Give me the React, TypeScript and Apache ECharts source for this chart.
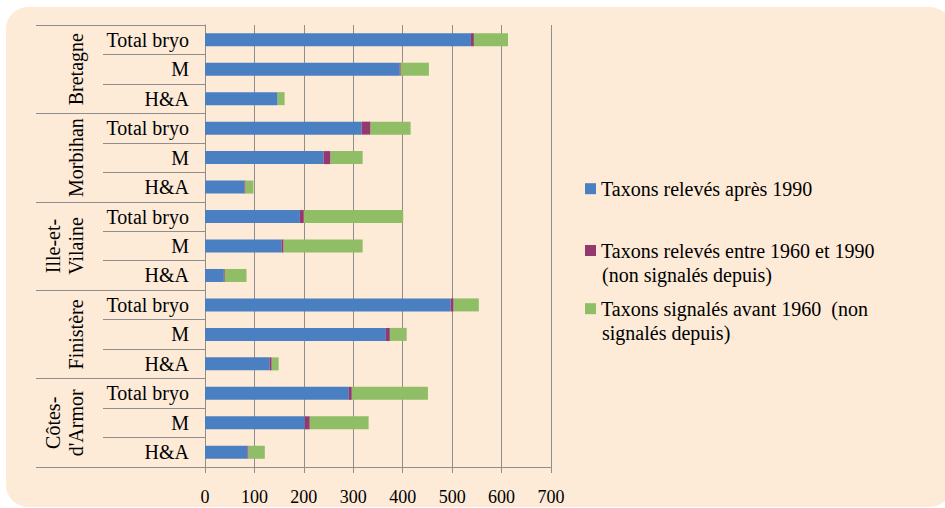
import React, { useEffect, useRef } from "react";
import * as echarts from "echarts";

const categories = [
  "Total bryo", "M", "H&A",
  "Total bryo", "M", "H&A",
  "Total bryo", "M", "H&A",
  "Total bryo", "M", "H&A",
  "Total bryo", "M", "H&A",
];
const groups = ["Bretagne", "Morbihan", "Ille-et-\nVilaine", "Finistère", "Côtes-\nd'Armor"];
const seriesNames = [
  "Taxons relevés après 1990",
  "Taxons relevés entre 1960 et 1990 (non signalés depuis)",
  "Taxons signalés avant 1960 (non signalés depuis)",
];
const legendFirstLines = [
  "Taxons relevés après 1990",
  "Taxons relevés entre 1960 et 1990",
  "Taxons signalés avant 1960  (non",
];
const legendSecondLines = ["", "(non signalés depuis)", "signalés depuis)"];
const after1990 = [538, 394, 147, 317, 240, 80, 192, 155, 38, 497, 366, 131, 291, 202, 86];
const between1960and1990 = [6, 2, 0, 18, 14, 2, 8, 4, 2, 6, 8, 4, 6, 10, 2];
const before1960 = [69, 57, 14, 81, 65, 16, 201, 160, 44, 51, 34, 14, 154, 119, 33];
const xTicks = { min: 0, max: 700, interval: 100 };

const colors = ["#4A7FC1", "#953870", "#8FBE66"];
const lineGray = "#8E8E8E";
const font = "Liberation Serif";

export default function App() {
  const ref = useRef<HTMLDivElement>(null);
  useEffect(() => {
    if (!ref.current) return;
    const chart = echarts.init(ref.current, null, { renderer: "svg" });
    const values = [after1990, between1960and1990, before1960];
    const lh = 24;
    const centers = [188.7, 250.5, 308.7];
    const legendFont = 20;
    const secondLineTexts = legendSecondLines
      .map((t, i) => ({ t, i }))
      .filter((o) => o.t)
      .map((o) => ({
        type: "text",
        left: 602,
        top: centers[o.i] + lh - lh / 2,
        silent: true,
        style: {
          text: o.t,
          fontFamily: font,
          fontSize: legendFont,
          lineHeight: lh,
          fill: "#000",
        },
      }));
    const option: any = {
      animation: false,
      backgroundColor: "#ffffff",
      textStyle: { fontFamily: font },
      graphic: [
        {
          type: "rect",
          z: -10,
          silent: true,
          shape: { x: 6, y: 7, width: 946, height: 500, r: 22 },
          style: { fill: "#FDEBD8" },
        },
        ...secondLineTexts,
      ],
      grid: { left: 205, top: 25, width: 346, height: 442, containLabel: false },
      legend: seriesNames.map((n, i) => ({
        data: [n],
        left: 585,
        top: centers[i] - lh / 2,
        padding: 0,
        itemWidth: 11,
        itemHeight: 11,
        icon: "rect",
        selectedMode: false,
        formatter: () => legendFirstLines[i],
        textStyle: {
          fontFamily: font,
          fontSize: legendFont,
          color: "#000",
          lineHeight: lh,
        },
      })),
      xAxis: {
        type: "value",
        min: xTicks.min,
        max: xTicks.max,
        interval: xTicks.interval,
        axisLine: { show: true, lineStyle: { color: lineGray, width: 1 } },
        axisTick: { show: true, length: 6, lineStyle: { color: lineGray } },
        splitLine: { show: true, lineStyle: { color: lineGray, width: 1 } },
        axisLabel: { margin: 21, fontFamily: font, fontSize: 18, color: "#000" },
      },
      yAxis: [
        {
          type: "category",
          data: categories,
          inverse: true,
          position: "left",
          axisLine: { show: true, lineStyle: { color: lineGray } },
          axisTick: { show: true, length: 102, lineStyle: { color: lineGray } },
          axisLabel: { interval: 0, margin: 16, fontFamily: font, fontSize: 20, color: "#000" },
        },
        {
          type: "category",
          data: groups,
          inverse: true,
          position: "left",
          axisLine: { show: false },
          axisTick: { show: true, length: 169, lineStyle: { color: lineGray } },
          axisLabel: {
            interval: 0,
            rotate: 90,
            margin: 118,
            fontFamily: font,
            fontSize: 20,
            lineHeight: 23,
            color: "#000",
            align: "center",
          },
        },
      ],
      series: seriesNames.map((n, i) => ({
        name: n,
        type: "bar",
        stack: "total",
        yAxisIndex: 0,
        barWidth: 13,
        itemStyle: { color: colors[i] },
        data: values[i],
      })),
    };
    chart.setOption(option);
    return () => chart.dispose();
  }, []);
  return (
    <div
      ref={ref}
      style={{ position: "absolute", left: 0, top: 0, width: 945, height: 508 }}
    />
  );
}
